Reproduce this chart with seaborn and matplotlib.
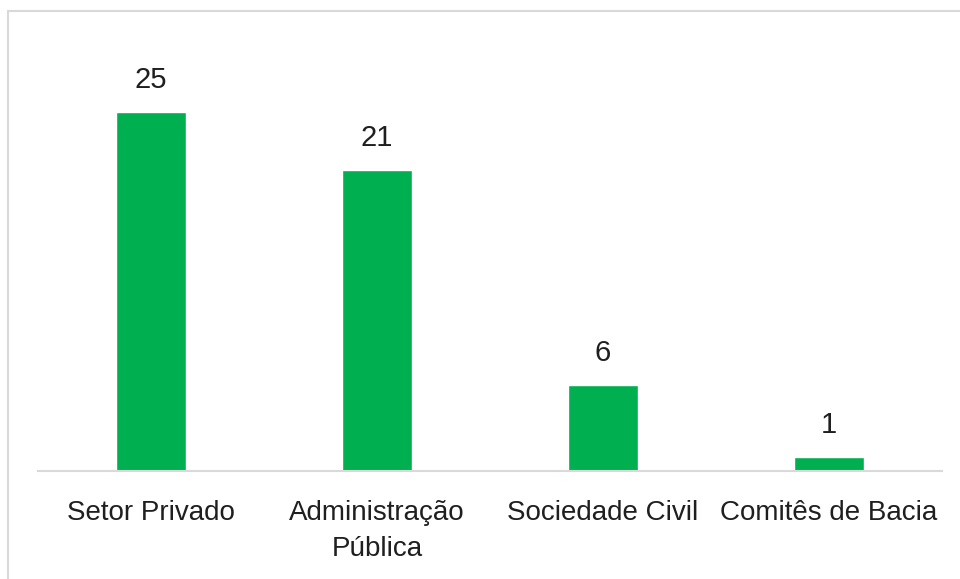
import matplotlib
matplotlib.use("Agg")
import matplotlib.pyplot as plt
import seaborn as sns
import pandas as pd
from matplotlib.patches import Rectangle

categories = ["Setor Privado", "Administração\nPública", "Sociedade Civil", "Comitês de Bacia"]
values = [25, 21, 6, 1]

sns.set_style("white")
plt.rcParams['font.family'] = ['Liberation Sans', 'DejaVu Sans']

W, H = 960, 579
fig = plt.figure(figsize=(W/100, H/100), dpi=100)
ax = fig.add_axes([38/W, 1-471/H, (942-38)/W, (471-60)/H])

df = pd.DataFrame({"cat": categories, "val": values})
sns.barplot(data=df, x="cat", y="val", color="#00B050", width=0.31, saturation=1, ax=ax)

ax.set_ylim(0, 411/14.35)
ax.set_xlim(-0.5, 3.5)
for s in ["top", "right", "left"]:
    ax.spines[s].set_visible(False)
ax.spines["bottom"].set_color("#d9d9d9")
ax.spines["bottom"].set_linewidth(1.5)
ax.set_yticks([])
ax.set_xlabel("")
ax.set_ylabel("")
ax.tick_params(axis="x", length=0, pad=21, labelsize=20, labelcolor="#1f1f1f")
for lbl in ax.get_xticklabels():
    lbl.set_linespacing(1.5)
    lbl.set_verticalalignment("top")

for i, v in enumerate(values):
    ax.annotate(str(v), (i, v), xytext=(0, 13), textcoords="offset points",
                ha="center", va="bottom", fontsize=21, color="#1f1f1f")

fig.patches.append(Rectangle((8/W, -0.1), 1.2, 1.1 - 11/H, transform=fig.transFigure,
                             fill=False, edgecolor="#d9d9d9", linewidth=1.5))

fig.savefig("out.png", dpi=100)
